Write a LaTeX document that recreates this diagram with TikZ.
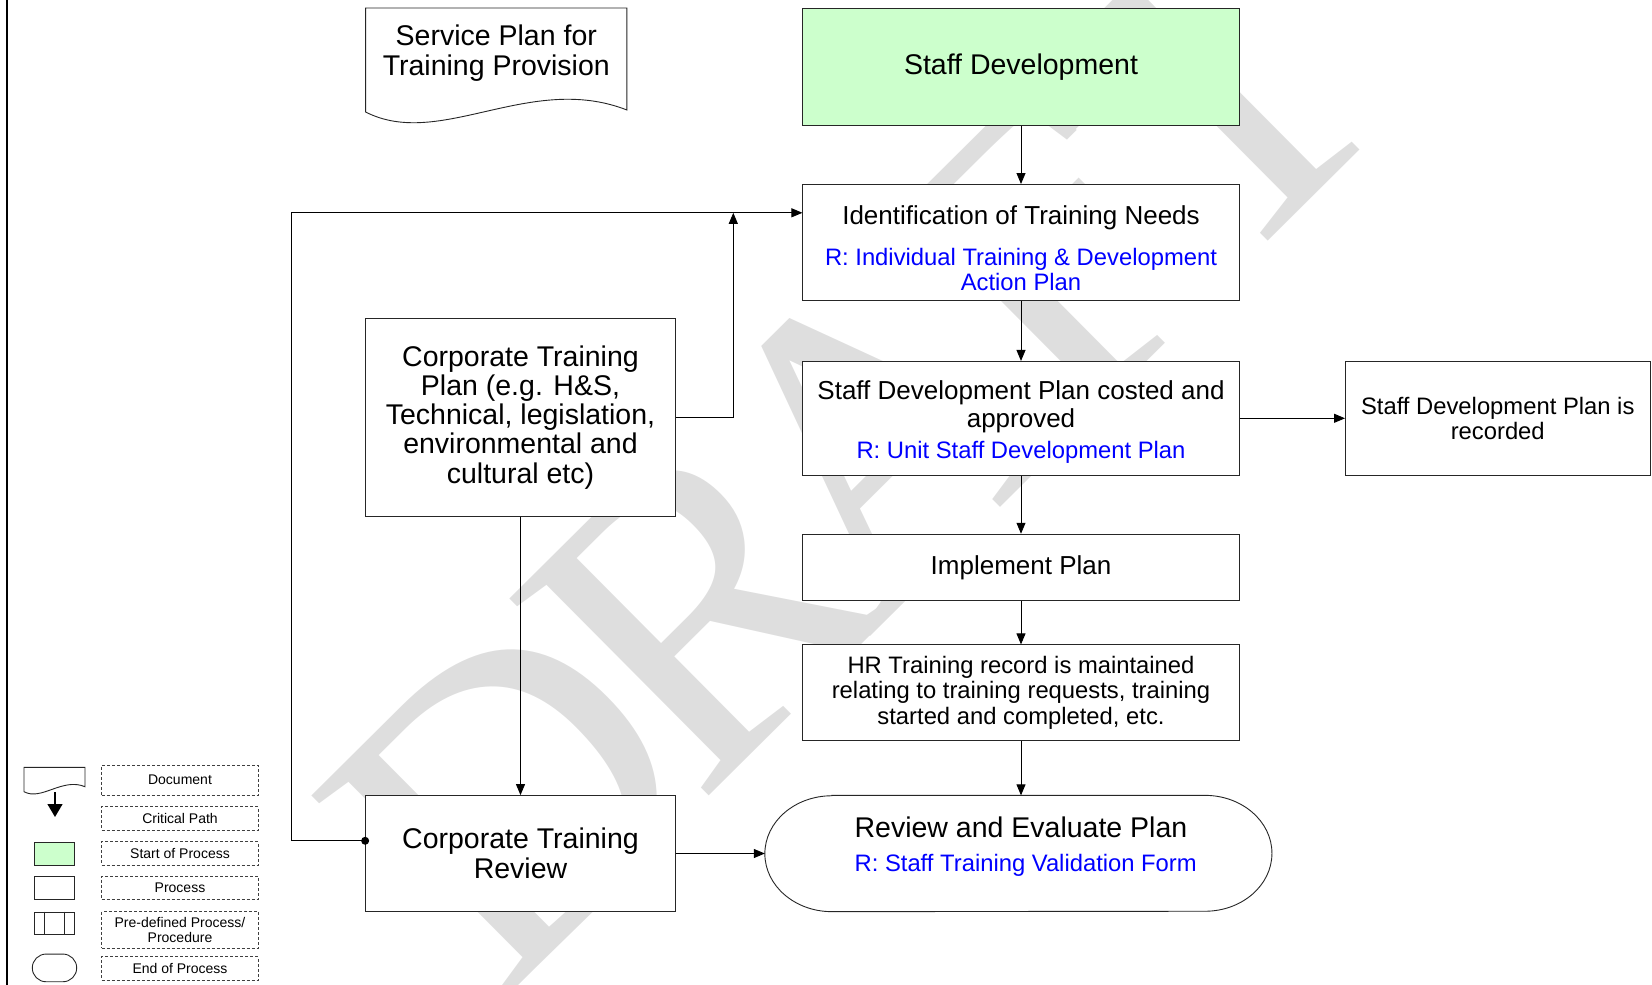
\documentclass[tikz,border=0pt]{standalone}
\usepackage{fontspec}
\setmainfont{Liberation Sans}
\newfontfamily\wmfont{Liberation Serif}
\usetikzlibrary{arrows.meta}
\definecolor{startgreen}{RGB}{204,255,204}
\definecolor{wmgray}{RGB}{222,222,222}
\definecolor{refblue}{RGB}{0,0,255}
\newcommand{\reftext}[1]{{\color{refblue}\fontsize{23.8}{24.2}\selectfont #1}}
\begin{document}
\begin{tikzpicture}[x=1pt,y=-1pt,
  box/.style={draw=black!85, line width=0.9pt, fill=white, inner sep=0pt, align=center},
  txt/.style={inner sep=0pt, align=center},
  arr/.style={draw=black, line width=0.9pt, -{Triangle[length=11pt,width=9pt]}},
  wmletter/.style={font=\wmfont\fontsize{428}{428}\selectfont, text=wmgray, rotate=44.8, anchor=base west, inner sep=0pt},
  legbox/.style={draw=black!75, line width=0.7pt, dash pattern=on 3pt off 2pt, minimum width=156.6pt, minimum height=23.3pt, inner sep=0pt, align=center, font=\fontsize{14}{15}\selectfont},
  legicon/.style={draw=black!85, line width=0.9pt, minimum width=40pt, minimum height=22.7pt, inner sep=0pt}
]
\useasboundingbox (0,0) rectangle (1652,985);

% watermark (letters placed along a common baseline)
\node[wmletter] (wmD) at (500.4,1003.2) {D};
\node[wmletter] (wmR) at (698.1,806.8) {R};
\node[wmletter] (wmA) at (866.9,639.3) {A};
\node[wmletter] (wmF) at (1068.9,438.6) {F};
\node[wmletter] (wmT) at (1220.9,287.8) {T};

% left border
\draw[line width=2pt] (7,0) -- (7,985);

% document shape
\draw[fill=white, line width=0.9pt, draw=black!85] (365.6,112) -- (365.6,8) -- (626.9,8) -- (626.9,110) .. controls (530,72) and (440,150) .. (365.6,112) -- cycle;
\node[txt, font=\fontsize{28.5}{30.6}\selectfont] (svc) at (496.3,53.1) {Service Plan for\\Training Provision};

% main column
\node[box, fill=startgreen, minimum width=436.2pt, minimum height=117pt, font=\fontsize{28.5}{30}\selectfont] (sd) at (1021,66.9) {Staff Development};

\node[box, minimum width=436.2pt, minimum height=115.9pt] (id) at (1021,242.4) {};
\node[txt, font=\fontsize{26}{24.4}\selectfont] (idt) at (1021,248) {Identification of Training Needs\\[16.9pt]\reftext{R: Individual Training \& Development}\\\reftext{Action Plan}};

\node[box, minimum width=436.2pt, minimum height=113.8pt] (sdp) at (1021,418.3) {};
\node[txt, font=\fontsize{26}{28.3}\selectfont] (sdpt) at (1021,422.2) {Staff Development Plan costed and\\approved\\[2.7pt]\reftext{R: Unit Staff Development Plan}};

\node[box, minimum width=304.5pt, minimum height=113.8pt, font=\fontsize{23.8}{25}\selectfont] (rec) at (1497.75,418.3) {Staff Development Plan is\\recorded};

\node[box, minimum width=436.2pt, minimum height=66.4pt, font=\fontsize{26}{28}\selectfont] (imp) at (1021,567.4) {Implement Plan};

\node[box, minimum width=436.2pt, minimum height=95.9pt, font=\fontsize{23.8}{25.3}\selectfont] (hr) at (1021,692.8) {HR Training record is maintained\\relating to training requests, training\\started and completed, etc.};

% end of process (stadium)
\node[minimum width=506.7pt, minimum height=115.9pt, inner sep=0pt] (rev) at (1018.4,853.5) {};
\draw[fill=white, line width=0.9pt, draw=black!85] ([xshift=67pt]rev.north west) -- ([xshift=-67pt]rev.north east) arc[start angle=90, end angle=-90, x radius=67pt, y radius=57.95pt] -- ([xshift=67pt]rev.south west) arc[start angle=270, end angle=90, x radius=67pt, y radius=57.95pt] -- cycle;
\node[inner sep=0pt, align=left, font=\fontsize{28.5}{34.5}\selectfont] (revt) at (1025.7,846.7) {Review and Evaluate Plan\\\reftext{R: Staff Training Validation Form}};

% left column
\node[box, minimum width=309.8pt, minimum height=198.1pt, font=\fontsize{28.5}{29.2}\selectfont] (ctp) at (520.5,417.3) {Corporate Training\\Plan (e.g. H\&S,\\Technical, legislation,\\environmental and\\cultural etc)};

\node[box, minimum width=309.8pt, minimum height=115.9pt, font=\fontsize{28.5}{29.5}\selectfont] (ctr) at (520.5,853.5) {Corporate Training\\Review};

% connectors
\draw[arr] (sd.south) -- (id.north);
\draw[arr] (id.south) -- (sdp.north);
\draw[arr] (sdp.south) -- (imp.north);
\draw[arr] (imp.south) -- (hr.north);
\draw[arr] (hr.south) -- (hr.south |- rev.north);
\draw[arr] (sdp.east) -- (rec.west);
\draw[arr] (ctp.south) -- (ctr.north);
\draw[arr] (ctr.east) -- (rev.west);

\coordinate (loopTL) at (291.8,212.8);
\coordinate (junc) at (733.3,212.8);
\coordinate (fbstart) at ([yshift=12.7pt]ctr.west);
\draw[arr] (fbstart) -| (loopTL) -- (loopTL -| id.west);
\fill (fbstart) circle[radius=4pt];
\draw[arr] (ctp.east) -| (junc);

% legend
\draw[fill=white, line width=0.9pt, draw=black!85] (24,791.7) -- (24,767.3) -- (85,767.3) -- (85,786.7) .. controls (62.4,777.2) and (41.4,801.2) .. (24,791.7) -- cycle;
\coordinate (lgarrs) at (55,792);
\coordinate (lgarre) at (55,817);
\draw[line width=1.2pt, -{Triangle[length=13pt,width=15pt]}] (lgarrs) -- (lgarre);
\node[legicon, fill=startgreen] (lgstart) at (54,853.7) {};
\node[legicon] (lgproc) at (54,888) {};
\node[legicon] (lgpre) at (54,923.3) {};
\draw[line width=0.9pt, draw=black!85] ([xshift=11pt]lgpre.north west) -- ([xshift=11pt]lgpre.south west);
\draw[line width=0.9pt, draw=black!85] ([xshift=-10pt]lgpre.north east) -- ([xshift=-10pt]lgpre.south east);
\node[draw=black!85, line width=0.9pt, rounded corners=13.8pt, minimum width=44.4pt, minimum height=27.7pt, inner sep=0pt] (lgend) at (54.5,967.9) {};

\node[legbox, minimum height=30pt] (lgdoc) at (180,780) {Document};
\node[legbox] (lgcrit) at (180,818.3) {Critical Path};
\node[legbox] (lgst) at (180,853.3) {Start of Process};
\node[legbox] (lgpr) at (180,887.7) {Process};
\node[legbox, minimum height=36.6pt] (lgpd) at (180,930) {Pre-defined Process/\\Procedure};
\node[legbox] (lgen) at (180,968.3) {End of Process};
\end{tikzpicture}
\end{document}
